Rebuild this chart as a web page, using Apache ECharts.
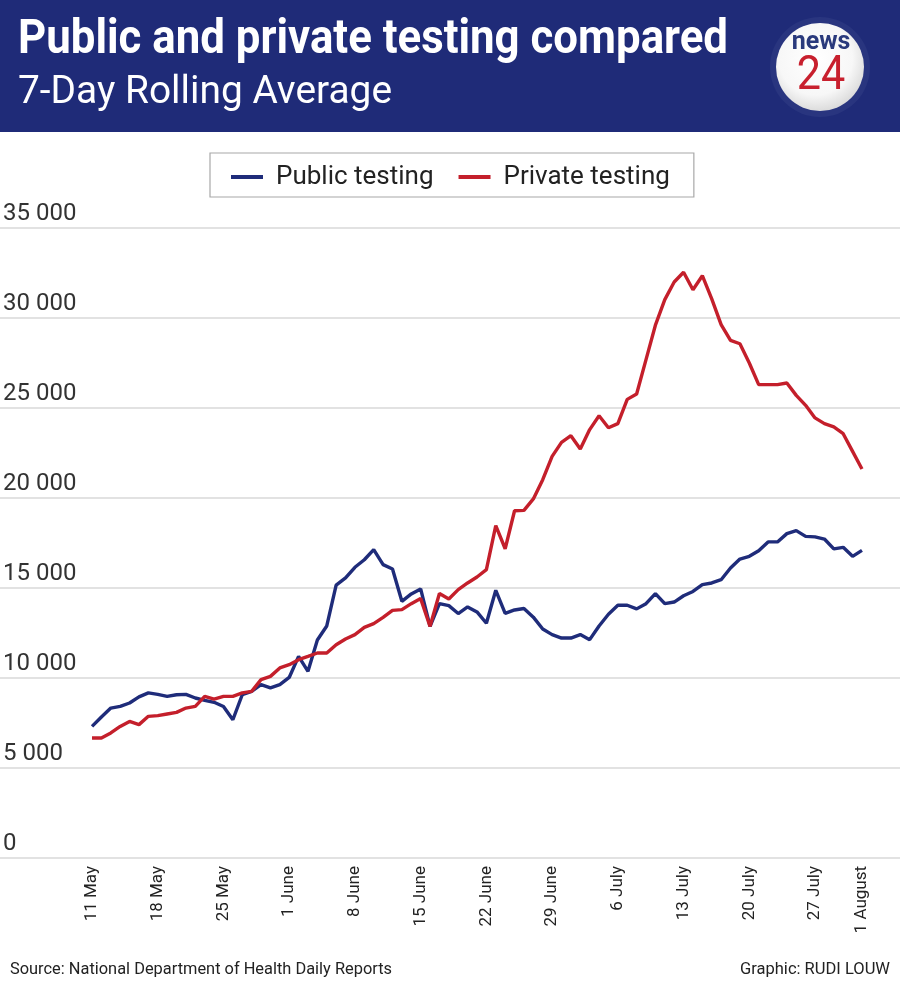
<!DOCTYPE html>
<html>
<head>
<meta charset="utf-8">
<script src="https://cdn.jsdelivr.net/npm/echarts@6/dist/echarts.min.js"></script>
<style>
html,body{margin:0;padding:0;background:#fff;}
#chart{width:900px;height:986px;}
</style>
</head>
<body>
<div id="chart"></div>
<script>
// ---- Data (7-day rolling average, 11 May .. 1 August, daily) ----
const tickIdx = [0, 7, 14, 21, 28, 35, 42, 49, 56, 63, 70, 77, 82];
const tickLabels = ['11 May', '18 May', '25 May', '1 June', '8 June', '15 June', '22 June',
  '29 June', '6 July', '13 July', '20 July', '27 July', '1 August'];
const yTicks = [0, 5000, 10000, 15000, 20000, 25000, 30000, 35000];

const publicTesting = [
  7310, 7830, 8330, 8420, 8610, 8950, 9170, 9090, 8980, 9070,
  9090, 8890, 8760, 8650, 8420, 7680, 9070, 9260, 9630, 9450,
  9630, 10030, 11200, 10370, 12110, 12890, 15160, 15560, 16150, 16570,
  17130, 16300, 16060, 14260, 14670, 14950, 12870, 14130, 14020, 13580,
  13950, 13670, 13040, 14870, 13590, 13780, 13860, 13380, 12720, 12410,
  12220, 12220, 12410, 12130, 12890, 13540, 14040, 14040, 13840, 14130,
  14690, 14130, 14220, 14570, 14810, 15190, 15280, 15460, 16110, 16610,
  16760, 17070, 17560, 17560, 18020, 18190, 17870, 17840, 17720, 17170,
  17260, 16760, 17090
];
const privateTesting = [
  6670, 6670, 6950, 7310, 7590, 7410, 7870, 7910, 8000, 8090,
  8330, 8420, 8980, 8830, 8980, 8980, 9170, 9260, 9910, 10090,
  10560, 10740, 11020, 11200, 11390, 11390, 11850, 12170, 12410, 12810,
  13020, 13370, 13760, 13800, 14130, 14410, 12870, 14690, 14390, 14910,
  15280, 15610, 16020, 18460, 17180, 19290, 19310, 19950, 21020, 22310,
  23090, 23460, 22720, 23800, 24570, 23900, 24130, 25480, 25780, 27690,
  29600, 31020, 32000, 32540, 31570, 32350, 31060, 29630, 28760, 28570,
  27500, 26300, 26300, 26300, 26390, 25700, 25150, 24450, 24130, 23950,
  23570, 22590, 21610
];

// ---- helpers ----
const mctx = document.createElement('canvas').getContext('2d');
function fitScale(text, font, target) {
  mctx.font = font;
  return target / mctx.measureText(text).width;
}
function fmt(v) {
  return String(v).replace(/\B(?=(\d{3})+(?!\d))/g, ' ');
}
const toPairs = arr => arr.map((v, i) => [i, v]);

const BLUE = '#1f2c7a';
const RED = '#c41f2b';
const HEADER = '#1f2b78';

const titleText = 'Public and private testing compared';
const subText = '7-Day Rolling Average';
const srcText = 'Source: National Department of Health Daily Reports';
const credText = 'Graphic: RUDI LOUW';

const sTitle = fitScale(titleText, 'bold 48px Roboto', 710);
const sSub = fitScale(subText, 'normal 38px Roboto', 374);
const sSrc = fitScale(srcText, 'normal 17px Roboto', 382);
const sCred = fitScale(credText, 'normal 17px Roboto', 150);

const chart = echarts.init(document.getElementById('chart'), null, {renderer: 'canvas'});
chart.setOption({
  animation: false,
  backgroundColor: '#ffffff',
  graphic: [
    {type: 'rect', z: 0, shape: {x: 0, y: 0, width: 900, height: 132}, style: {fill: HEADER}},
    {type: 'text', x: 18, y: 41, scaleX: sTitle, z: 5,
      style: {text: titleText, fill: '#ffffff', fontFamily: 'Roboto', fontWeight: 'bold', fontSize: 48,
        align: 'left', verticalAlign: 'middle'}},
    {type: 'text', x: 18, y: 93, scaleX: sSub, z: 5,
      style: {text: subText, fill: '#ffffff', fontFamily: 'Roboto', fontWeight: 'normal', fontSize: 38,
        align: 'left', verticalAlign: 'middle'}},
    {type: 'circle', z: 4, shape: {cx: 820, cy: 67, r: 50}, style: {fill: '#29357f'}},
    {type: 'circle', z: 5, shape: {cx: 820, cy: 67, r: 44},
      style: {fill: {type: 'radial', x: 0.45, y: 0.4, r: 0.6,
        colorStops: [{offset: 0, color: '#ffffff'}, {offset: 0.7, color: '#f7f7f7'}, {offset: 1, color: '#dcdcdc'}]}}},
    {type: 'text', x: 821, y: 43, z: 6,
      style: {text: 'news', fill: '#2a3a7c', fontFamily: 'Roboto', fontWeight: 'bold', fontSize: 25,
        align: 'center', verticalAlign: 'middle'}},
    {type: 'text', x: 821, y: 77, scaleX: 0.9, z: 6,
      style: {text: '24', fill: '#c8202e', fontFamily: 'Roboto', fontWeight: 'normal', fontSize: 48,
        align: 'center', verticalAlign: 'middle'}},
    {type: 'text', x: 10, y: 970, scaleX: sSrc, z: 5,
      style: {text: srcText, fill: '#222', fontFamily: 'Roboto', fontSize: 17, align: 'left', verticalAlign: 'middle'}},
    {type: 'text', x: 890, y: 970, scaleX: sCred, z: 5,
      style: {text: credText, fill: '#222', fontFamily: 'Roboto', fontSize: 17, align: 'right', verticalAlign: 'middle'}}
  ],
  legend: {
    left: 210, top: 153,
    padding: [11, 24, 7, 21],
    itemGap: 25,
    itemWidth: 32, itemHeight: 4,
    icon: 'rect',
    borderColor: '#a8a8a8', borderWidth: 1.2,
    textStyle: {fontFamily: 'Roboto', fontSize: 26, color: '#222', padding: [0, 0, 0, 8]},
    data: ['Public testing', 'Private testing']
  },
  grid: {left: 0, right: 0, top: 228, bottom: 128, containLabel: false},
  xAxis: {
    type: 'value', min: -9.8, max: 86.05,
    axisLine: {show: false}, axisTick: {show: false}, splitLine: {show: false},
    axisLabel: {
      customValues: tickIdx,
      rotate: 90, margin: 8,
      fontFamily: 'Roboto', fontSize: 17, color: '#222',
      formatter: v => tickLabels[tickIdx.indexOf(v)] || ''
    }
  },
  yAxis: {
    type: 'value', min: yTicks[0], max: yTicks[yTicks.length - 1], interval: 5000,
    axisLine: {show: false}, axisTick: {show: false},
    splitLine: {lineStyle: {color: '#d8d8d8', width: 1.6}},
    axisLabel: {
      inside: true, margin: 3, verticalAlign: 'bottom', padding: [0, 0, 2, 0],
      fontFamily: 'Roboto', fontSize: 24, color: '#333',
      formatter: v => fmt(v)
    }
  },
  series: [
    {name: 'Public testing', type: 'line', data: toPairs(publicTesting), showSymbol: false,
      lineStyle: {color: BLUE, width: 3.4}, itemStyle: {color: BLUE}, z: 3},
    {name: 'Private testing', type: 'line', data: toPairs(privateTesting), showSymbol: false,
      lineStyle: {color: RED, width: 3.4}, itemStyle: {color: RED}, z: 4}
  ]
});
</script>
</body>
</html>
